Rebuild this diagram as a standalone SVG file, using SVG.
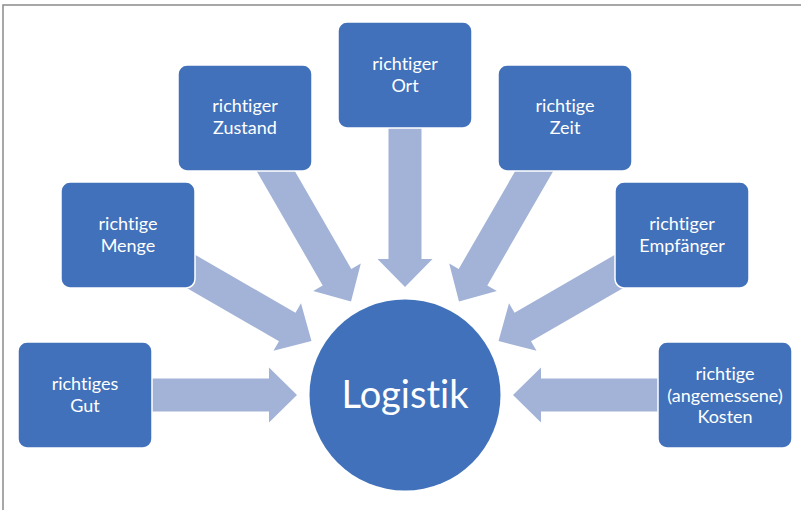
<svg xmlns="http://www.w3.org/2000/svg" xmlns:xlink="http://www.w3.org/1999/xlink" width="801" height="510" viewBox="0 0 801 510">
  <style>
    .frame { fill: none; stroke: #8a8a8a; stroke-width: 1.5; }
    .box { fill: #4171BA; stroke: #ffffff; stroke-width: 1.5; }
    .arrow { fill: #A2B3D7; }
    .lbl { font-family: Lato, "Liberation Sans", sans-serif; font-size: 18px; fill: #ffffff; text-anchor: middle; font-variant-ligatures: none; }
    .big { font-family: Lato, "Liberation Sans", sans-serif; font-size: 38px; fill: #ffffff; text-anchor: middle; font-variant-ligatures: none; }
  </style>
  <defs>
    <polygon id="arr" class="arrow" points="108,0 136,-27.5 136,-16.5 275,-16.5 275,16.5 136,16.5 136,27.5"/>
  </defs>
  <rect width="801" height="510" fill="#ffffff"/>
  <path class="frame" d="M3,510 V5 H801"/>

  <g id="connectors">
    <use xlink:href="#arr" href="#arr" transform="translate(405 395) rotate(180)"/>
    <use xlink:href="#arr" href="#arr" transform="translate(405 395) rotate(-150)"/>
    <use xlink:href="#arr" href="#arr" transform="translate(405 395) rotate(-120)"/>
    <use xlink:href="#arr" href="#arr" transform="translate(405 395) rotate(-90)"/>
    <use xlink:href="#arr" href="#arr" transform="translate(405 395) rotate(-60)"/>
    <use xlink:href="#arr" href="#arr" transform="translate(405 395) rotate(-30)"/>
    <use xlink:href="#arr" href="#arr" transform="translate(405 395)"/>
  </g>

  <g id="logistik">
    <circle cx="405" cy="395" r="95.5" fill="#4171BA"/>
    <text class="big" x="405" y="407.5">Logistik</text>
  </g>

  <g id="gut">
    <rect class="box" x="18" y="342" width="134" height="106" rx="9"/>
    <text class="lbl" x="85" y="390">richtiges</text>
    <text class="lbl" x="85" y="412">Gut</text>
  </g>

  <g id="menge">
    <rect class="box" x="61" y="182" width="134" height="106" rx="9"/>
    <text class="lbl" x="128" y="230">richtige</text>
    <text class="lbl" x="128" y="252">Menge</text>
  </g>

  <g id="zustand">
    <rect class="box" x="178" y="65" width="134" height="106" rx="9"/>
    <text class="lbl" x="245" y="112">richtiger</text>
    <text class="lbl" x="245" y="134">Zustand</text>
  </g>

  <g id="ort">
    <rect class="box" x="338" y="22" width="134" height="106" rx="9"/>
    <text class="lbl" x="405" y="70">richtiger</text>
    <text class="lbl" x="405" y="92">Ort</text>
  </g>

  <g id="zeit">
    <rect class="box" x="498" y="65" width="134" height="106" rx="9"/>
    <text class="lbl" x="565" y="112">richtige</text>
    <text class="lbl" x="565" y="134">Zeit</text>
  </g>

  <g id="empfaenger">
    <rect class="box" x="615" y="182" width="134" height="106" rx="9"/>
    <text class="lbl" x="682" y="230">richtiger</text>
    <text class="lbl" x="682" y="252">Empfänger</text>
  </g>

  <g id="kosten">
    <rect class="box" x="658" y="342" width="134" height="106" rx="9"/>
    <text class="lbl" x="725" y="380">richtige</text>
    <text class="lbl" x="725" y="401.5">(angemessene)</text>
    <text class="lbl" x="725" y="423">Kosten</text>
  </g>
</svg>
